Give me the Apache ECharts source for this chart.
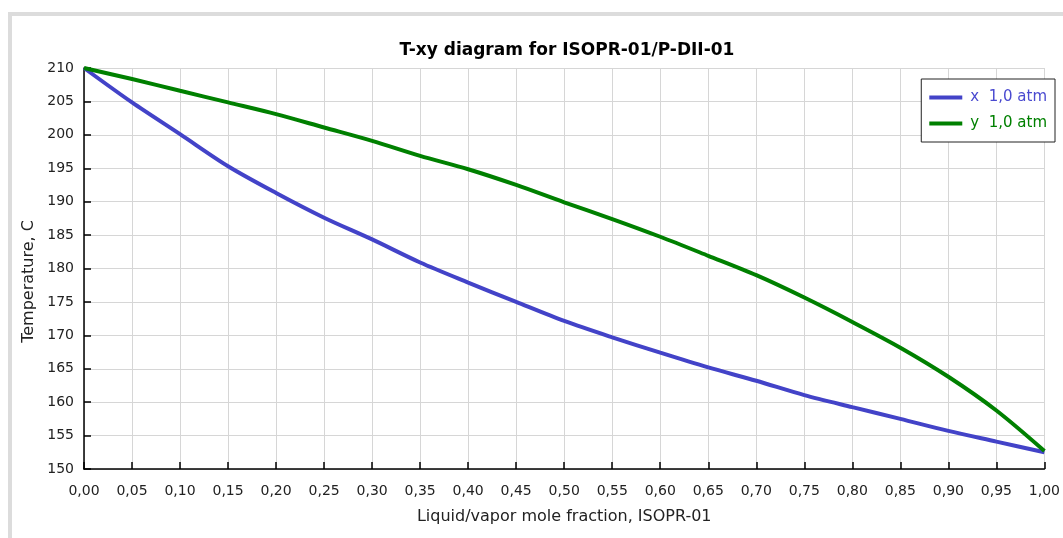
<!DOCTYPE html>
<html>
<head>
<meta charset="utf-8">
<script src="https://cdn.jsdelivr.net/npm/echarts@6/dist/echarts.min.js"></script>
<style>
  html, body { margin: 0; padding: 0; background: #fff; overflow: hidden; }
  #frame { position: absolute; left: 8px; top: 12px; width: 1100px; height: 600px;
           border: 4px solid #dcdcdc; box-sizing: border-box; }
  #chart { position: absolute; left: 0; top: 0; width: 1063px; height: 538px; }
</style>
</head>
<body>
<div id="frame"></div>
<div id="chart"></div>
<script>
// mole fraction of ISOPR-01
var xFrac = [0, 0.05, 0.10, 0.15, 0.20, 0.25, 0.30, 0.35, 0.40, 0.45, 0.50,
             0.55, 0.60, 0.65, 0.70, 0.75, 0.80, 0.85, 0.90, 0.95, 1.00];
// bubble line (liquid), C
var tLiquid = [210, 204.85, 200.1, 195.3, 191.3, 187.6, 184.35, 180.9, 177.9, 175.0, 172.15,
               169.7, 167.4, 165.2, 163.2, 161.05, 159.25, 157.5, 155.7, 154.1, 152.5];
// dew line (vapor), C
var tVapor = [210, 208.35, 206.6, 204.85, 203.1, 201.1, 199.1, 196.85, 194.85, 192.5, 189.9,
              187.4, 184.75, 181.9, 179.0, 175.65, 172.0, 168.15, 163.8, 158.75, 152.7];
var seriesNames = ['x  1,0 atm', 'y  1,0 atm'];
var colors = ['#4343c8', '#008000'];

function pairs(ys) {
  return xFrac.map(function (x, i) { return [x, ys[i]]; });
}

var font = 'DejaVu Sans, Verdana, sans-serif';
var chart = echarts.init(document.getElementById('chart'));
chart.setOption({
  animation: false,
  textStyle: { fontFamily: font },
  title: {
    text: 'T-xy diagram for ISOPR-01/P-DII-01',
    left: 562, top: 37, textAlign: 'center',
    textStyle: { fontSize: 17, fontWeight: 'bold', color: '#000', fontFamily: font }
  },
  grid: { left: 84, right: 8, top: 68, bottom: 69 },
  legend: {
    orient: 'vertical',
    right: 8, top: 79,
    itemWidth: 33, itemHeight: 4, itemGap: 11,
    padding: [11, 8, 11, 8],
    borderColor: '#222', borderWidth: 1,
    backgroundColor: '#fff',
    icon: 'rect',
    data: [
      { name: seriesNames[0], textStyle: { color: '#4a4ad0' } },
      { name: seriesNames[1], textStyle: { color: colors[1] } }
    ],
    textStyle: { fontSize: 15, fontFamily: font, padding: [0, 0, 0, 3] }
  },
  xAxis: {
    type: 'value', min: 0, max: 1, interval: 0.05,
    name: 'Liquid/vapor mole fraction, ISOPR-01',
    nameLocation: 'middle', nameGap: 40,
    nameTextStyle: { fontSize: 16, color: '#222', fontFamily: font },
    axisLine: { lineStyle: { color: '#000', width: 1.5 } },
    axisTick: { inside: true, length: 7, lineStyle: { color: '#000', width: 1.5 } },
    axisLabel: { fontSize: 14, color: '#222', margin: 15,
      formatter: function (v) { return v.toFixed(2).replace('.', ','); } },
    splitLine: { show: true, lineStyle: { color: '#d6d6d6', width: 1 } }
  },
  yAxis: {
    type: 'value', min: 150, max: 210, interval: 5,
    name: 'Temperature, C',
    nameLocation: 'middle', nameGap: 40,
    nameTextStyle: { fontSize: 16, color: '#222', fontFamily: font, padding: [0, 26, 0, 0] },
    axisLine: { show: true, lineStyle: { color: '#000', width: 1.5 } },
    axisTick: { show: true, inside: true, length: 7, lineStyle: { color: '#000', width: 1.5 } },
    axisLabel: { fontSize: 14, color: '#222', margin: 10 },
    splitLine: { show: true, lineStyle: { color: '#d6d6d6', width: 1 } }
  },
  series: [
    { name: seriesNames[0], type: 'line', data: pairs(tLiquid), smooth: 0.3,
      showSymbol: false, itemStyle: { color: colors[0] },
      lineStyle: { color: colors[0], width: 4 } },
    { name: seriesNames[1], type: 'line', data: pairs(tVapor), smooth: 0.3,
      showSymbol: false, itemStyle: { color: colors[1] },
      lineStyle: { color: colors[1], width: 4 } }
  ]
});
</script>
</body>
</html>
